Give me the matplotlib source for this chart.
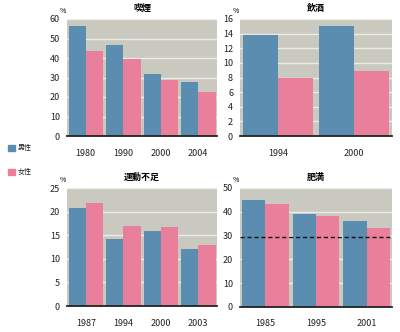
import matplotlib
matplotlib.use("Agg")
import matplotlib.pyplot as plt
import numpy as np
from matplotlib.patches import Rectangle

plt.rcParams['font.family'] = ['Noto Sans CJK JP', 'DejaVu Sans']

# ---- data ----
legend_labels = ["男性", "女性"]

smoking_title = "喫煙"
smoking_years = ["1980", "1990", "2000", "2004"]
smoking_male = [56.6, 46.6, 32.0, 27.6]
smoking_female = [43.7, 39.7, 28.5, 22.8]
smoking_yticks = [0, 10, 20, 30, 40, 50, 60]

drinking_title = "飲酒"
drinking_years = ["1994", "2000"]
drinking_male = [13.8, 15.0]
drinking_female = [8.0, 8.95]
drinking_yticks = [0, 2, 4, 6, 8, 10, 12, 14, 16]

exercise_title = "運動不足"
exercise_years = ["1987", "1994", "2000", "2003"]
exercise_male = [20.7, 14.1, 15.8, 12.0]
exercise_female = [21.8, 17.0, 16.7, 13.0]
exercise_yticks = [0, 5, 10, 15, 20, 25]

obesity_title = "肥満"
obesity_years = ["1985", "1995", "2001"]
obesity_male = [45.0, 39.2, 36.1]
obesity_female = [43.4, 38.2, 33.3]
obesity_yticks = [0, 10, 20, 30, 40, 50]
obesity_ref = 29.5

# ---- style ----
MALE = "#5b8db0"
FEMALE = "#e97f9b"
BG = "#c9c9c0"
GRID = "#ecece6"
W = 0.46

fig = plt.figure(figsize=(4.0, 3.32), dpi=100)

def px_axes(left, top, right, bottom):
    return fig.add_axes([left / 400, 1 - bottom / 332, (right - left) / 400, (bottom - top) / 332])

def panel(ax, title, years, male, female, yticks):
    x = np.arange(len(years))
    ax.set_facecolor(BG)
    ax.bar(x - W / 2, male, W, color=MALE, zorder=3)
    ax.bar(x + W / 2, female, W, color=FEMALE, zorder=3)
    ax.set_xlim(-0.5, len(years) - 0.5)
    ax.set_ylim(yticks[0], yticks[-1])
    ax.set_yticks(yticks)
    ax.set_xticks(x)
    ax.set_xticklabels(years)
    ax.yaxis.grid(True, color=GRID, linewidth=1.0, zorder=1)
    ax.set_axisbelow(True)
    for s in ["top", "right", "left"]:
        ax.spines[s].set_visible(False)
    ax.spines["bottom"].set_color("#222222")
    ax.spines["bottom"].set_linewidth(1.3)
    ax.spines["bottom"].set_zorder(5)
    ax.tick_params(axis="both", length=0, labelsize=6.5, colors="#222222")
    ax.tick_params(axis="x", pad=9)
    ax.tick_params(axis="y", pad=5)
    ax.set_title(title, fontsize=6.5, fontweight="bold", pad=6)
    ax.text(-0.03, 1.03, "%", transform=ax.transAxes, fontsize=5, ha="center", va="bottom")
    return ax

ax1 = px_axes(67, 19, 217, 136)
panel(ax1, smoking_title, smoking_years, smoking_male, smoking_female, smoking_yticks)
ax2 = px_axes(240, 19, 392, 136)
panel(ax2, drinking_title, drinking_years, drinking_male, drinking_female, drinking_yticks)
ax3 = px_axes(67, 188, 217, 306)
panel(ax3, exercise_title, exercise_years, exercise_male, exercise_female, exercise_yticks)
ax4 = px_axes(240, 188, 392, 307)
panel(ax4, obesity_title, obesity_years, obesity_male, obesity_female, obesity_yticks)
ax4.axhline(obesity_ref, color="#111111", linestyle=(0, (3, 2)), linewidth=1.0, zorder=4)

# legend
for i, (lab, col) in enumerate(zip(legend_labels, [MALE, FEMALE])):
    yc = 148 + i * 24
    fig.patches.append(Rectangle((8 / 400, 1 - (yc + 3) / 332), 7 / 400, 6 / 332,
                                 transform=fig.transFigure, color=col))
    fig.text(18 / 400, 1 - yc / 332, lab, fontsize=5, va="center", ha="left", color="#222222")

fig.savefig("out.png", dpi=100)
